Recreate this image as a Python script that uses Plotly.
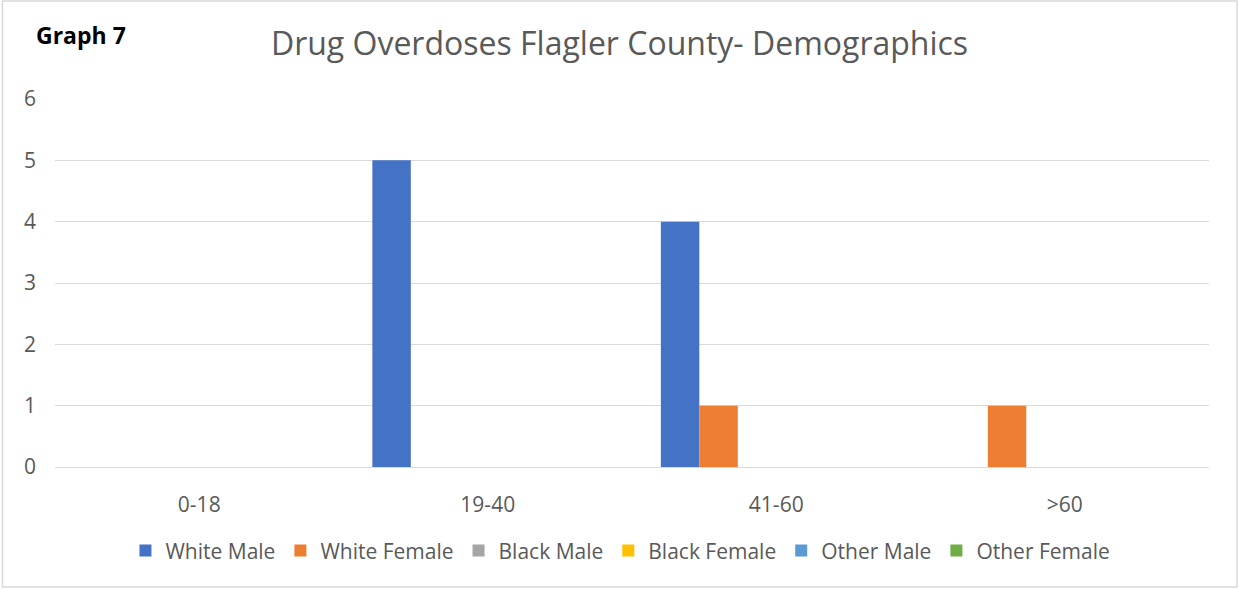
import plotly.graph_objects as go

# age groups on the x axis
age_groups = ["0-18", "19-40", "41-60", ">60"]

# overdose counts by demographic
white_male = [0, 5, 4, 0]
white_female = [0, 0, 1, 1]
black_male = [0, 0, 0, 0]
black_female = [0, 0, 0, 0]
other_male = [0, 0, 0, 0]
other_female = [0, 0, 0, 0]

series = [
    ("White Male", white_male, "#4472C4"),
    ("White Female", white_female, "#ED7D31"),
    ("Black Male", black_male, "#A5A5A5"),
    ("Black Female", black_female, "#FFC000"),
    ("Other Male", other_male, "#5B9BD5"),
    ("Other Female", other_female, "#70AD47"),
]

FONT = "Open Sans"
GREY = "#595959"

fig = go.Figure()
for name, vals, color in series:
    fig.add_trace(go.Bar(x=age_groups, y=vals, name=name, marker_color=color, marker_line_width=0))

fig.update_layout(
    width=1239,
    height=590,
    margin=dict(l=55, r=30, t=99, b=123),
    paper_bgcolor="white",
    plot_bgcolor="white",
    barmode="group",
    bargap=0.2,
    bargroupgap=0,
    font=dict(family=FONT, size=21, color=GREY),
    title=dict(
        text="Drug Overdoses Flagler County- Demographics",
        x=0.5,
        xanchor="center",
        y=0.925,
        yanchor="middle",
        font=dict(family=FONT, size=32, color=GREY),
    ),
    legend=dict(
        orientation="h",
        x=0.49,
        xanchor="center",
        y=-0.228,
        yanchor="middle",
        font=dict(size=21, color=GREY),
        itemwidth=30,
        traceorder="normal",
    ),
    showlegend=True,
)

fig.update_yaxes(
    range=[0, 6],
    dtick=1,
    showgrid=True,
    gridcolor="#D9D9D9",
    gridwidth=1.3,
    zeroline=True,
    zerolinecolor="#D9D9D9",
    zerolinewidth=1.3,
    showline=False,
    ticklabelstandoff=18,
    tickfont=dict(size=21, color=GREY),
)
fig.update_xaxes(
    showgrid=False,
    showline=False,
    ticklabelstandoff=23,
    tickfont=dict(size=21, color=GREY),
)

# "Graph 7" label in the top-left corner
fig.add_annotation(
    text="<b>Graph 7</b>",
    xref="paper",
    yref="paper",
    x=-0.0182,
    y=1.175,
    xanchor="left",
    yanchor="middle",
    showarrow=False,
    font=dict(family=FONT, size=23, color="black"),
)

# thin frame round the whole picture
fig.add_shape(
    type="rect",
    xref="paper",
    yref="paper",
    x0=-0.0455,
    x1=1.0243,
    y0=-0.326,
    y1=1.266,
    line=dict(color="#D9D9D9", width=1.5),
    fillcolor="rgba(0,0,0,0)",
    layer="below",
)

# drop the page's default body margin so the figure sits at the top-left
fig.write_html(
    "out.html",
    config={"displayModeBar": False},
    post_script="document.body.style.margin='0';",
)
